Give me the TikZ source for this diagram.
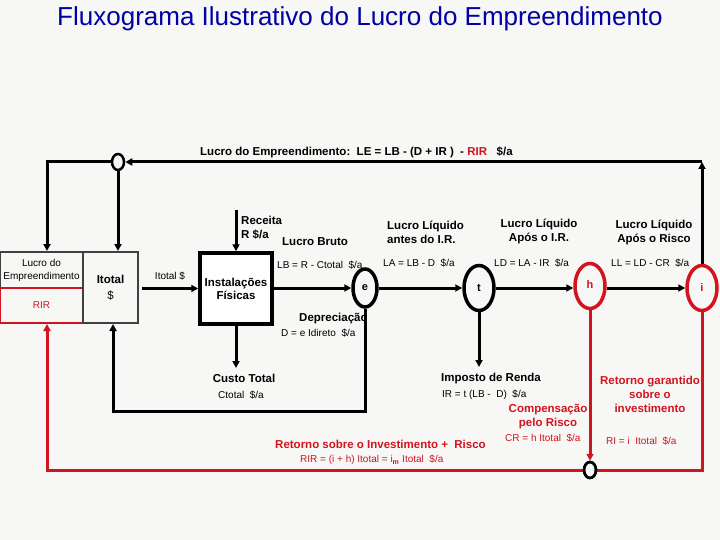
\documentclass[tikz,border=0pt]{standalone}
\usepackage{fontspec}
\setmainfont{Liberation Sans}
\usetikzlibrary{arrows.meta,shapes.geometric}
\definecolor{bg}{RGB}{247,247,245}
\definecolor{ttl}{RGB}{0,0,165}
\definecolor{rd}{RGB}{210,20,30}
\definecolor{gbox}{RGB}{64,64,64}
\begin{document}
\begin{tikzpicture}[x=1pt,y=-1pt,
  tip/.style={-{Triangle[length=7pt,width=7pt]}},
  conn/.style={line width=3pt,tip},
  plain/.style={line width=3pt},
  rconn/.style={line width=3pt,draw=rd,-{Triangle[length=7pt,width=7pt,fill=rd]}},
  rplain/.style={line width=3pt,draw=rd},
  sm/.style={font=\fontsize{10}{11}\selectfont,inner sep=0pt},
  bd/.style={font=\bfseries\fontsize{11.5}{14}\selectfont,inner sep=0pt},
  blk/.style={ellipse,draw,line width=3.5pt,inner sep=0pt,font=\bfseries\fontsize{11}{13}\selectfont},
  redell/.style={ellipse,draw=rd,line width=3.5pt,inner sep=0pt,text=rd,font=\bfseries\fontsize{11}{13}\selectfont},
  smallc/.style={ellipse,draw,line width=2.5pt,minimum width=12pt,minimum height=16pt,inner sep=0pt}
]
\fill[bg] (0,0) rectangle (720,540);
\useasboundingbox (0,0) rectangle (720,540);

% title
\node[text=ttl,font=\fontsize{26}{30}\selectfont] (title) at (360,19) {Fluxograma Ilustrativo do Lucro do Empreendimento};

% top label
\node[font=\bfseries\fontsize{11.5}{13}\selectfont,anchor=west,inner sep=0pt] (toplab) at (200,152)
  {Lucro do Empreendimento:\ \ LE = LB - (D + IR )\ \ - \textcolor{rd}{RIR}\ \ \ \$/a};

% left boxes
\node[draw=gbox,line width=2pt,minimum width=83pt,minimum height=36pt,inner sep=0pt,
      align=center,font=\fontsize{10}{13}\selectfont] (lucro) at (41.5,270) {Lucro do\\Empreendimento};
\node[draw=rd,line width=2pt,minimum width=83pt,minimum height=35pt,inner sep=0pt,
      text=rd,font=\fontsize{10}{12}\selectfont] (rir) at (41.5,305.5) {RIR};
\node[draw=gbox,line width=2pt,minimum width=55pt,minimum height=71pt,inner sep=0pt,
      align=center,font=\fontsize{11.5}{16}\selectfont] (itot) at (110.5,287.5) {\textbf{Itotal}\\\$};

% Instalacoes
\node[draw,fill=white,line width=3.5pt,minimum width=72pt,minimum height=71pt,inner sep=0pt,
      align=center,font=\bfseries\fontsize{11.5}{13}\selectfont] (inst) at (236,288.5) {Instalações\\Físicas};

% ellipses
\node[blk,minimum width=24pt,minimum height=38pt] (e) at (365,288) {e};
\node[blk,minimum width=30pt,minimum height=45pt] (t) at (479,288) {t};
\node[redell,minimum width=30pt,minimum height=45pt] (h) at (590,286) {\raisebox{3pt}{h}};
\node[redell,minimum width=30pt,minimum height=45pt] (i) at (702,288) {\raisebox{-3pt}{i}};

% small circles
\node[smallc] (c1) at (118,162) {};
\node[smallc] (c2) at (590,470) {};

% coordinates
\coordinate (topR) at (702,162);
\coordinate (topL) at (47,162);
\coordinate (rec) at (236,210);
\coordinate (ct) at (236,368);
\coordinate (dR) at (365,411);
\coordinate (dL) at (113,411);
\coordinate (ir) at (479,367);
\coordinate (bR) at (702,470);
\coordinate (bL) at (47,470);

% texts
\node[sm,anchor=center] (itlab) at (170,276) {Itotal \$};
\node[bd,anchor=west,align=left] (receita) at (241,228) {Receita\\R \$/a};
\node[bd,anchor=west] (lbruto) at (282,242) {Lucro Bruto};
\node[sm,anchor=west] (lbf) at (277,265) {LB = R - Ctotal\ \ \$/a};
\node[bd,align=left,anchor=west] (lla) at (387,232) {Lucro Líquido\\antes do I.R.};
\node[sm,anchor=west] (laf) at (383,263) {LA = LB - D\ \ \$/a};
\node[bd,align=center] (llb) at (539,231) {Lucro Líquido\\Após o I.R.};
\node[sm,anchor=west] (ldf) at (494,263) {LD = LA - IR\ \ \$/a};
\node[bd,align=center] (llc) at (654,232) {Lucro Líquido\\Após o Risco};
\node[sm,anchor=west] (llf) at (611,263) {LL = LD - CR\ \ \$/a};
\node[bd,anchor=west] (dep) at (299,319) {Depreciação};
\node[sm,anchor=west] (depf) at (281,333) {D = e Idireto\ \ \$/a};
\node[bd] (custo) at (244,378) {Custo Total};
\node[sm,anchor=west] (custof) at (218,395) {Ctotal\ \ \$/a};
\node[bd,anchor=west] (imp) at (441,379) {Imposto de Renda};
\node[sm,anchor=west] (impf) at (442,395) {IR = t (LB -\ \ D)\ \ \$/a};
\node[bd,text=rd,align=center] (comp) at (548,417) {Compensação\\pelo Risco};
\node[sm,text=rd,anchor=west] (compf) at (505,438) {CR = h Itotal\ \ \$/a};
\node[bd,text=rd,align=center] (garant) at (650,394) {Retorno garantido\\sobre o\\investimento};
\node[sm,text=rd,anchor=west] (garf) at (606,441) {RI = i\ \ Itotal\ \ \$/a};
\node[bd,text=rd,anchor=west] (ret) at (275,444) {Retorno sobre o Investimento +\ \ Risco};
\node[sm,text=rd,anchor=west] (retf) at (300,460) {RIR = (i + h) Itotal = i\textsubscript{\textbf{m}} Itotal\ \ \$/a};

% connectors (black)
\draw[conn] (i.north) -- (topR);
\draw[conn] (topR) -- (c1.east);
\draw[conn] (c1.west) -- (topL) -- (topL |- lucro.north);
\draw[conn] (c1.south) -- (c1 |- itot.north);
\draw[conn] ([xshift=3pt]itot.east |- inst.west) -- (inst.west);
\draw[conn] (rec) -- (rec |- inst.north);
\draw[conn] (inst.east |- e.west) -- (e.west);
\draw[conn] (e.east) -- (t.west);
\draw[conn] (t.east) -- (h.west |- t.east);
\draw[conn] (h.east |- i.west) -- (i.west);
\draw[conn] (inst.south) -- (ct);
\draw[conn] (e.south) -- (dR) -- (dL) -- (dL |- itot.south);
\draw[conn] (t.south) -- (ir);

% connectors (red)
\draw[rconn] (h.south) -- (c2.north);
\draw[rplain] (i.south) -- (bR) -- (c2.east);
\draw[rconn] (c2.west) -- (bL) -- (bL |- rir.south);
\node[smallc] at (c2) {};
\end{tikzpicture}
\end{document}
